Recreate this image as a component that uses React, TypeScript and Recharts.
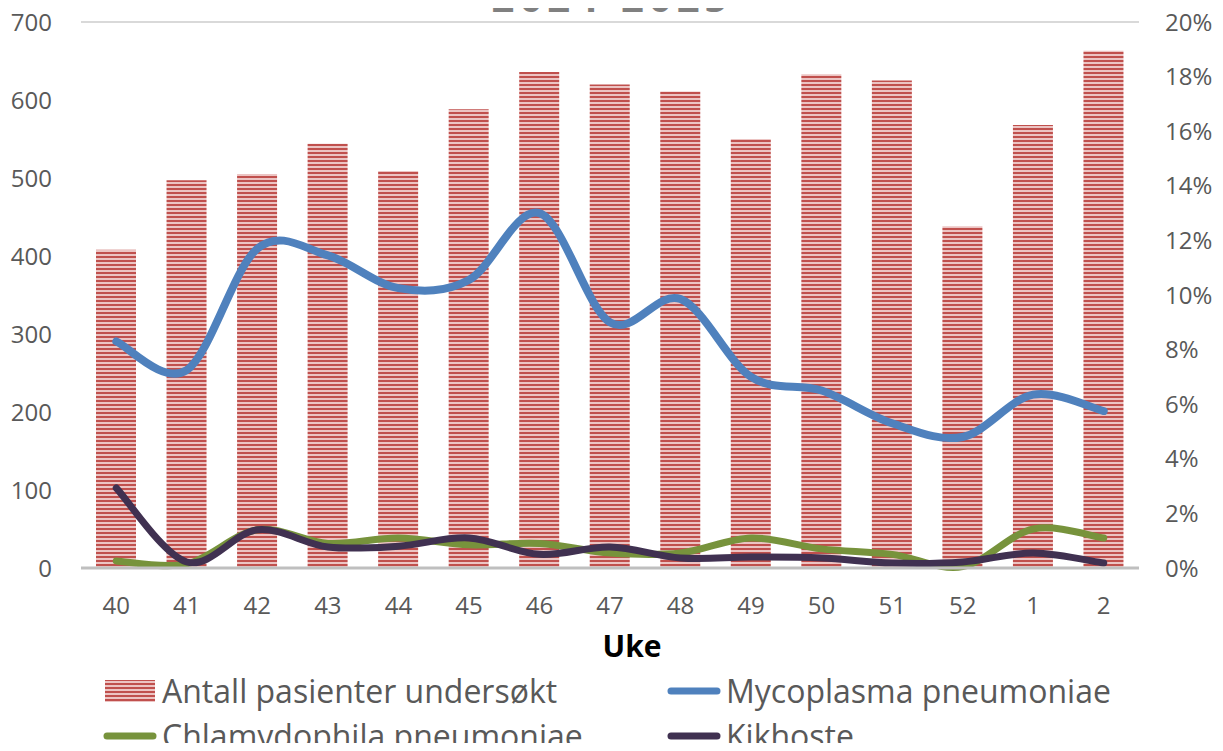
import React from "react";
import { ComposedChart, Bar, Line, XAxis, YAxis, CartesianGrid, Legend } from "recharts";

const WEEKS = ["40", "41", "42", "43", "44", "45", "46", "47", "48", "49", "50", "51", "52", "1", "2"];
const PATIENTS = [408, 497, 505, 544, 509, 588, 636, 620, 611, 550, 633, 625, 438, 568, 663];
const MYCOPLASMA = [8.3, 7.25, 11.7, 11.45, 10.25, 10.55, 13.0, 9.0, 9.85, 7.0, 6.5, 5.3, 4.8, 6.35, 5.75];
const CHLAMYDOPHILA = [0.26, 0.15, 1.4, 0.9, 1.1, 0.85, 0.9, 0.55, 0.55, 1.1, 0.7, 0.5, 0.05, 1.43, 1.1];
const KIKHOSTE = [2.93, 0.22, 1.4, 0.77, 0.8, 1.1, 0.5, 0.77, 0.37, 0.4, 0.37, 0.18, 0.22, 0.55, 0.18];
const LEFT_TICKS = [0, 100, 200, 300, 400, 500, 600, 700];
const RIGHT_TICKS = [0, 2, 4, 6, 8, 10, 12, 14, 16, 18, 20];

const RED = "#c0504d";
const BLUE = "#4f81bd";
const GREEN = "#77933c";
const PURPLE = "#403151";
const FONT = "'Open Sans', 'Noto Sans', sans-serif";

const data = WEEKS.map((w, i) => ({
  week: w,
  patients: PATIENTS[i],
  myco: MYCOPLASMA[i],
  chlam: CHLAMYDOPHILA[i],
  kik: KIKHOSTE[i],
}));

// Excel-style smoothed line (Catmull-Rom through the points)
function smoothCurve(context: any) {
  let pts: number[][] = [];
  return {
    areaStart() {},
    areaEnd() {},
    lineStart() {
      pts = [];
    },
    point(x: number, y: number) {
      pts.push([+x, +y]);
    },
    lineEnd() {
      if (!pts.length) return;
      context.moveTo(pts[0][0], pts[0][1]);
      for (let i = 0; i < pts.length - 1; i++) {
        const p0 = pts[i - 1] || pts[i];
        const p1 = pts[i];
        const p2 = pts[i + 1];
        const p3 = pts[i + 2] || p2;
        context.bezierCurveTo(
          p1[0] + (p2[0] - p0[0]) / 6,
          p1[1] + (p2[1] - p0[1]) / 6,
          p2[0] - (p3[0] - p1[0]) / 6,
          p2[1] - (p3[1] - p1[1]) / 6,
          p2[0],
          p2[1]
        );
      }
    },
  };
}

function Stripes({ id }: { id: string }) {
  return (
    <pattern id={id} width="8" height="4" patternUnits="userSpaceOnUse">
      <rect width="8" height="4" fill="#ecc4c3" />
      <rect width="8" height="2" fill={RED} />
    </pattern>
  );
}

function LegendBox() {
  const item = (icon: React.ReactNode, text: string) => (
    <div style={{ display: "flex", alignItems: "center", height: 45 }}>
      {icon}
      <span style={{ marginLeft: 5 }}>{text}</span>
    </div>
  );
  const lineIcon = (c: string) => (
    <svg width={54} height={10}>
      <line x1={4} y1={5} x2={50} y2={5} stroke={c} strokeWidth={7} strokeLinecap="round" />
    </svg>
  );
  const barIcon = (
    <svg width={54} height={24}>
      <defs>
        <Stripes id="legendStripes" />
      </defs>
      <rect x={2} y={1} width={50} height={22} fill="url(#legendStripes)" />
    </svg>
  );
  return (
    <div
      style={{
        height: 83,
        display: "grid",
        gridTemplateColumns: "564px 500px",
        paddingLeft: 103,
        fontFamily: FONT,
        fontSize: 32,
        color: "#595959",
        textAlign: "left",
        lineHeight: 1,
      }}
    >
      {item(barIcon, "Antall pasienter undersøkt")}
      {item(lineIcon(BLUE), "Mycoplasma pneumoniae")}
      {item(lineIcon(GREEN), "Chlamydophila pneumoniae")}
      {item(lineIcon(PURPLE), "Kikhoste")}
    </div>
  );
}

export default function App() {
  return (
    <div style={{ margin: -8, width: 1223, height: 751, background: "#fff" }}>
      <ComposedChart
        width={1223}
        height={751}
        data={data}
        margin={{ top: 22, right: 0, left: 0, bottom: 0 }}
        barSize={40}
      >
        <defs>
          <Stripes id="barStripes" />
        </defs>
        <text
          x={612}
          y={12}
          textAnchor="middle"
          fontFamily={FONT}
          fontWeight={700}
          fontSize={40}
          letterSpacing={5}
          fill="#808080"
        >
          2024-2025
        </text>
        <CartesianGrid vertical={false} stroke="#d9d9d9" strokeWidth={2} />
        <XAxis
          dataKey="week"
          height={100}
          tickLine={false}
          tickSize={0}
          tickMargin={29}
          axisLine={{ stroke: "#bfbfbf", strokeWidth: 3 }}
          tick={{ fontSize: 24, fill: "#595959", fontFamily: FONT }}
          label={{
            value: "Uke",
            position: "insideBottom",
            offset: 11,
            dx: 22,
            style: { fontSize: 30, fontWeight: 700, fill: "#000", fontFamily: FONT },
          }}
        />
        <YAxis
          yAxisId="left"
          width={81}
          domain={[0, 700]}
          ticks={LEFT_TICKS}
          axisLine={false}
          tickLine={false}
          tickSize={0}
          tickMargin={29}
          tick={{ fontSize: 24, fill: "#595959", fontFamily: FONT }}
        />
        <YAxis
          yAxisId="right"
          orientation="right"
          width={84}
          domain={[0, 20]}
          ticks={RIGHT_TICKS}
          tickFormatter={(v) => `${v}%`}
          axisLine={false}
          tickLine={false}
          tickSize={0}
          tickMargin={26}
          tick={{ fontSize: 24, fill: "#595959", fontFamily: FONT, textAnchor: "start" }}
        />
        <Legend verticalAlign="bottom" content={() => <LegendBox />} />
        <Bar yAxisId="left" dataKey="patients" fill="url(#barStripes)" isAnimationActive={false} />
        <Line yAxisId="right" type={smoothCurve as any} dataKey="myco" stroke={BLUE} strokeWidth={8} strokeLinecap="round" dot={false} isAnimationActive={false} />
        <Line yAxisId="right" type={smoothCurve as any} dataKey="chlam" stroke={GREEN} strokeWidth={7} strokeLinecap="round" dot={false} isAnimationActive={false} />
        <Line yAxisId="right" type={smoothCurve as any} dataKey="kik" stroke={PURPLE} strokeWidth={7} strokeLinecap="round" dot={false} isAnimationActive={false} />
      </ComposedChart>
    </div>
  );
}
